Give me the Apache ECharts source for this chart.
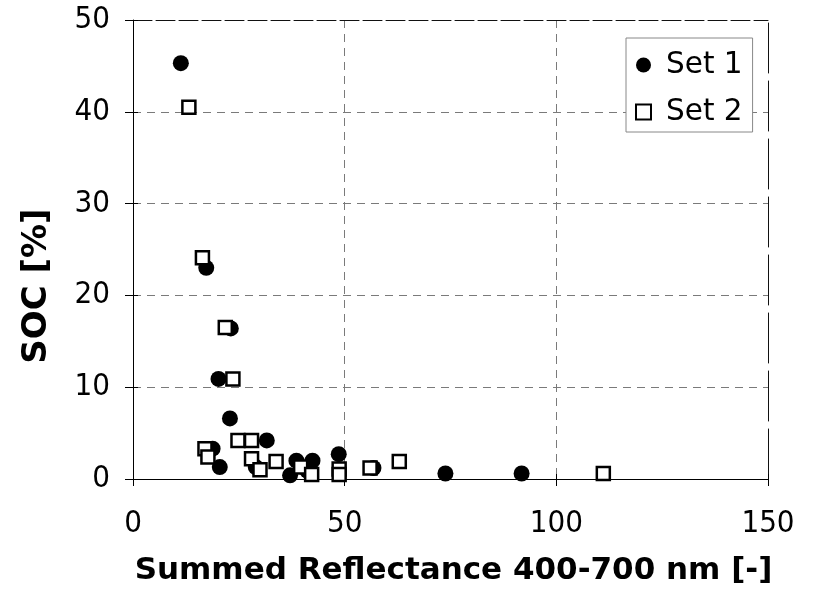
<!DOCTYPE html>
<html>
<head>
<meta charset="utf-8">
<script src="https://cdn.jsdelivr.net/npm/echarts@6/dist/echarts.min.js"></script>
<style>
  html, body { margin: 0; padding: 0; background: #fff; }
  #chart { width: 814px; height: 594px; }
</style>
</head>
<body>
<div id="chart"></div>
<script>
// Summed reflectance (400-700 nm) vs. soil organic carbon, two sample sets
const set1Reflectance = [11.3, 17.3, 23.1, 20.2, 22.9, 31.6, 18.8, 20.5, 29.0, 38.6, 42.4, 37.1, 41.2, 48.6, 56.8, 73.8, 91.8];
const set1SOC         = [45.3, 23.0, 16.4, 10.9, 6.6, 4.2, 3.3, 1.3, 1.3, 2.0, 2.0, 0.4, 0.9, 2.7, 1.2, 0.6, 0.6];

const set2Reflectance = [13.2, 16.4, 21.8, 23.6, 24.8, 28.0, 17.0, 17.7, 28.0, 30.0, 33.8, 39.6, 42.2, 48.7, 48.7, 56.0, 62.9, 111.1];
const set2SOC         = [40.5, 24.1, 16.5, 10.9, 4.2, 4.2, 3.3, 2.4, 2.2, 1.0, 1.9, 1.3, 0.5, 1.1, 0.5, 1.2, 1.9, 0.6];

const xTicks = [0, 50, 100, 150];
const yTicks = [0, 10, 20, 30, 40, 50];

const seriesNames = ['Set 1', 'Set 2'];
const xTitle = 'Summed Reflectance 400-700 nm [-]';
const yTitle = 'SOC [%]';

const FONT = "'DejaVu Sans', Verdana, sans-serif";
const TICK_FONT = "'DejaVu Sans Condensed', 'DejaVu Sans', Tahoma, sans-serif";

function pairs(xs, ys) {
  return xs.map((x, i) => [x, ys[i]]);
}

const chart = echarts.init(document.getElementById('chart'), null, { renderer: 'canvas' });

const gridDash = { color: '#7a7a7a', width: 1, type: [8, 6] };
const topFrame = { color: '#111', width: 1, type: [19, 4] };
const rightFrame = { color: '#111', width: 1, type: [50, 8] };

const xRange = { min: xTicks[0], max: xTicks[xTicks.length - 1], interval: xTicks[1] - xTicks[0] };
const yRange = { min: yTicks[0], max: yTicks[yTicks.length - 1], interval: yTicks[1] - yTicks[0] };

chart.setOption({
  animation: false,
  backgroundColor: '#fff',
  grid: { left: 133, right: 46, top: 20, bottom: 115 },
  legend: {
    orient: 'vertical',
    left: 626,
    top: 38,
    data: seriesNames,
    backgroundColor: '#fff',
    borderColor: '#888',
    borderWidth: 1,
    padding: [12, 10, 5, 9],
    itemGap: 17,
    itemWidth: 15,
    itemHeight: 15,
    textStyle: { fontFamily: FONT, fontSize: 29.5, color: '#000', lineHeight: 30, padding: [0, 0, 0, 10] }
  },
  xAxis: [
    {
      type: 'value',
      ...xRange,
      name: xTitle,
      nameLocation: 'middle',
      nameGap: 76,
      nameTextStyle: { fontFamily: FONT, fontSize: 31, fontWeight: 'bold', color: '#000', padding: [0, 0, 0, 6] },
      axisLine: { show: true, onZero: false, lineStyle: { color: '#000', width: 1 } },
      axisTick: { show: true, length: 7, lineStyle: { color: '#000' } },
      axisLabel: { fontFamily: TICK_FONT, fontSize: 31, color: '#000', margin: 29 },
      splitLine: { show: true, showMinLine: false, showMaxLine: false, lineStyle: gridDash }
    },
    {
      // inner half of the crossing tick marks
      type: 'value',
      position: 'bottom',
      ...xRange,
      axisLine: { show: false },
      axisTick: { show: true, inside: true, length: 5, lineStyle: { color: '#000' } },
      axisLabel: { show: false },
      splitLine: { show: false }
    },
    {
      type: 'value',
      position: 'top',
      ...xRange,
      axisLine: { show: true, onZero: false, lineStyle: topFrame },
      axisTick: { show: false },
      axisLabel: { show: false },
      splitLine: { show: false }
    }
  ],
  yAxis: [
    {
      type: 'value',
      ...yRange,
      axisLine: { show: true, onZero: false, lineStyle: { color: '#000', width: 1 } },
      axisTick: { show: true, length: 8, lineStyle: { color: '#000' } },
      axisLabel: { fontFamily: TICK_FONT, fontSize: 31, color: '#000', margin: 23 },
      splitLine: { show: true, showMinLine: false, showMaxLine: false, lineStyle: gridDash }
    },
    {
      type: 'value',
      position: 'left',
      ...yRange,
      axisLine: { show: false },
      axisTick: { show: true, inside: true, length: 5, lineStyle: { color: '#000' } },
      axisLabel: { show: false },
      splitLine: { show: false }
    },
    {
      type: 'value',
      position: 'right',
      ...yRange,
      axisLine: { show: true, onZero: false, lineStyle: rightFrame },
      axisTick: { show: false },
      axisLabel: { show: false },
      splitLine: { show: false }
    }
  ],
  graphic: [
    {
      type: 'text',
      x: 37,
      y: 286,
      rotation: Math.PI / 2,
      style: {
        text: yTitle,
        fontFamily: FONT,
        fontSize: 34,
        fontWeight: 'bold',
        fill: '#000',
        align: 'center',
        verticalAlign: 'middle'
      }
    }
  ],
  series: [
    {
      name: seriesNames[0],
      type: 'scatter',
      symbol: 'circle',
      symbolSize: 16,
      itemStyle: { color: '#000', opacity: 1 },
      data: pairs(set1Reflectance, set1SOC)
    },
    {
      name: seriesNames[1],
      type: 'scatter',
      symbol: 'rect',
      symbolSize: 13,
      itemStyle: { color: '#fff', borderColor: '#000', borderWidth: 2.5, opacity: 1 },
      data: pairs(set2Reflectance, set2SOC)
    }
  ]
});
</script>
</body>
</html>
